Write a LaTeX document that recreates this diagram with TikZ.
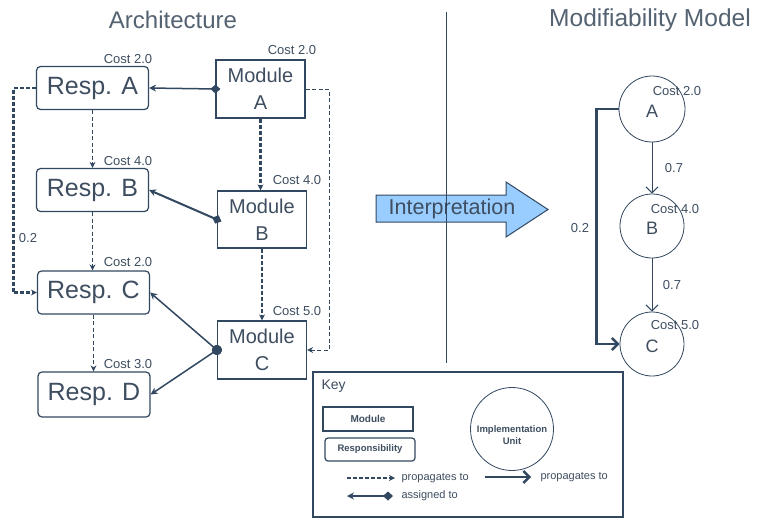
\documentclass[tikz,border=0pt]{standalone}
\usepackage{fontspec}
\setmainfont{Liberation Sans}
\usetikzlibrary{arrows.meta}
\definecolor{ink}{RGB}{50,72,96}
\definecolor{txt}{RGB}{62,78,96}
\definecolor{ttl}{RGB}{84,98,114}
\definecolor{arrowfill}{RGB}{153,204,255}
\tikzset{
  fs/.style={font=\fontsize{#1}{#1}\selectfont},
  respbox/.style={draw=ink, line width=1.2pt, rounded corners=4pt, minimum width=112pt, minimum height=43pt, text=txt, fs=25, inner sep=0pt},
  modbox/.style={draw=ink, line width=1.2pt, minimum width=89pt, minimum height=58pt, text=txt, align=center, font=\fontsize{20}{27}\selectfont, inner sep=0pt},
  costlbl/.style={text=txt, fs=13, inner sep=0pt},
  unitc/.style={draw=ink, line width=0.8pt, circle, minimum size=65pt, inner sep=0pt},
  ftip/.style={-{Stealth[length=6pt,width=6pt]}},
  propthin/.style={draw=ink, line width=0.9pt, dash pattern=on 4pt off 2.5pt, ftip},
  propthick/.style={draw=ink, line width=2.2pt, dash pattern=on 4pt off 2pt, ftip},
  assignd/.style={draw=ink, line width=1.5pt, shorten <=-5pt, {Diamond[length=10pt,width=9pt]}-{Stealth[length=7pt,width=7pt]}},
  assignc/.style={draw=ink, line width=1.5pt, shorten <=-5pt, {Circle[length=10pt]}-{Stealth[length=7pt,width=7pt]}},
  mprop/.style={draw=ink, line width=1pt, -{Straight Barb[length=6pt,width=12pt]}},
  mpropthick/.style={draw=ink, line width=2.4pt, -{Straight Barb[length=6pt,width=12pt]}},
}
\begin{document}
\begin{tikzpicture}[x=1pt,y=-1pt]
\useasboundingbox (0,0) rectangle (760,519);
\fill[white] (0,0) rectangle (760,519);

% titles
\node[text=ttl, fs=24] (t1) at (173,20) {Architecture};
\node[text=ttl, fs=24.5] (t2) at (650,20) {Modifiability Model};

% responsibilities
\node[respbox] (rA) at (92.5,88) {Resp. A};
\node[respbox] (rB) at (92.5,190) {Resp. B};
\node[respbox] (rC) at (93.5,292.5) {Resp. C};
\node[respbox, minimum height=45pt] (rD) at (94,394.5) {Resp. D};

% modules
\node[modbox] (mA) at (260.5,89) {Module\\A};
\node[modbox, minimum height=57pt] (mB) at (262,219.5) {Module\\B};
\node[modbox] (mC) at (262,350) {Module\\C};

% costs
\node[costlbl] (cr1) at (128,59) {Cost 2.0};
\node[costlbl] (cm1) at (292,50) {Cost 2.0};
\node[costlbl] (cr2) at (128,161) {Cost 4.0};
\node[costlbl] (cm2) at (297,180) {Cost 4.0};
\node[costlbl] (cr3) at (128,262) {Cost 2.0};
\node[costlbl] (cm3) at (297,311) {Cost 5.0};
\node[costlbl] (cr4) at (128,364) {Cost 3.0};

% assigned-to connectors
\draw[assignd] (mA.west) -- (rA.east);
\draw[assignd, line width=2pt] (mB.west) -- (rB.east);
\draw[assignc] (mC.west) -- (rC.east);
\draw[assignc] (mC.west) -- (rD.east);

% propagation between responsibilities
\draw[propthin] (rA.south) -- (rA.south |- rB.north);
\draw[propthin] (rB.south) -- (rB.south |- rC.north);
\draw[propthin] (rC.south) -- (rC.south |- rD.north);
\draw[propthick] (rA.west) -| ([xshift=-23.5pt]rC.west) -- (rC.west);
\node[costlbl] (p02) at (28,238) {0.2};

% propagation between modules
\draw[propthick] (mA.south) -- (mA.south |- mB.north);
\draw[propthick] (mB.south) -- (mB.south |- mC.north);
\draw[propthin] (mA.east) -| ([xshift=22pt]mC.east) -- (mC.east);

% interpretation arrow
\filldraw[fill=arrowfill, draw=ink, line width=1pt] (376,195) -- (506,195) -- (506,182) -- (548,209.5) -- (506,237) -- (506,222) -- (376,222) -- cycle;
\node[text=txt, fs=21.5] (interp) at (452,208.5) {Interpretation};

% divider
\coordinate (dtop) at (446.5,12);
\coordinate (dbot) at (446.5,363);
\draw[ink, line width=1.4pt] (dtop) -- (dbot);

% modifiability model
\node[unitc, minimum size=66pt] (uA) at (652,109) {};
\node[unitc, minimum size=64pt] (uB) at (652,226) {};
\node[unitc, minimum size=64pt] (uC) at (652,344) {};
\node[text=txt, fs=18] (lA) at (652,111) {A};
\node[text=txt, fs=18] (lB) at (652,228) {B};
\node[text=txt, fs=18] (lC) at (652,346) {C};
\node[costlbl] (ucA) at (677,91) {Cost 2.0};
\node[costlbl] (ucB) at (675,209) {Cost 4.0};
\node[costlbl] (ucC) at (675,325) {Cost 5.0};
\draw[mprop] (uA.south) -- (uB.north);
\draw[mprop] (uB.south) -- (uC.north);
\node[costlbl] (w1) at (674,168) {0.7};
\node[costlbl] (w2) at (672,285) {0.7};
\draw[mpropthick] (uA.west) -| ([xshift=-23pt]uC.west) -- (uC.west);
\node[costlbl] (w3) at (580,228) {0.2};

% key
\node[draw=ink, line width=1.3pt, minimum width=310pt, minimum height=145pt, inner sep=0pt] (key) at (468,444.5) {};
\node[text=txt, fs=14, anchor=west] (keyl) at (318,386) {Key};
\node[draw=ink, line width=1.2pt, minimum width=90pt, minimum height=24pt, inner sep=0pt, font=\bfseries\fontsize{10}{10}\selectfont, text=txt] (kmod) at (368,419) {Module};
\node[draw=ink, line width=1.2pt, rounded corners=3pt, minimum width=90pt, minimum height=23pt, inner sep=0pt, font=\bfseries\fontsize{9.5}{9.5}\selectfont, text=txt] (kresp) at (370,449.5) {Responsibility};
\node[draw=ink, line width=0.8pt, circle, minimum size=83pt, inner sep=0pt] (kunit) at (512,429) {};
\node[text=txt, align=center, font=\bfseries\fontsize{9.5}{12}\selectfont] (kunitl) at (512,435) {Implementation\\Unit};
\coordinate (k1a) at (347,478);
\coordinate (k1b) at (395,478);
\draw[propthick, line width=1.8pt] (k1a) -- (k1b);
\node[text=txt, fs=11, anchor=west] (k1t) at (398,478) {propagates to};
\coordinate (k2a) at (485,477);
\coordinate (k2b) at (531,477);
\draw[mpropthick] (k2a) -- (k2b);
\node[text=txt, fs=11, anchor=west] (k2t) at (537,477) {propagates to};
\coordinate (k3a) at (388,496);
\coordinate (k3b) at (347,496);
\draw[assignd] (k3a) -- (k3b);
\node[text=txt, fs=11, anchor=west] (k3t) at (398,496) {assigned to};
\end{tikzpicture}
\end{document}
